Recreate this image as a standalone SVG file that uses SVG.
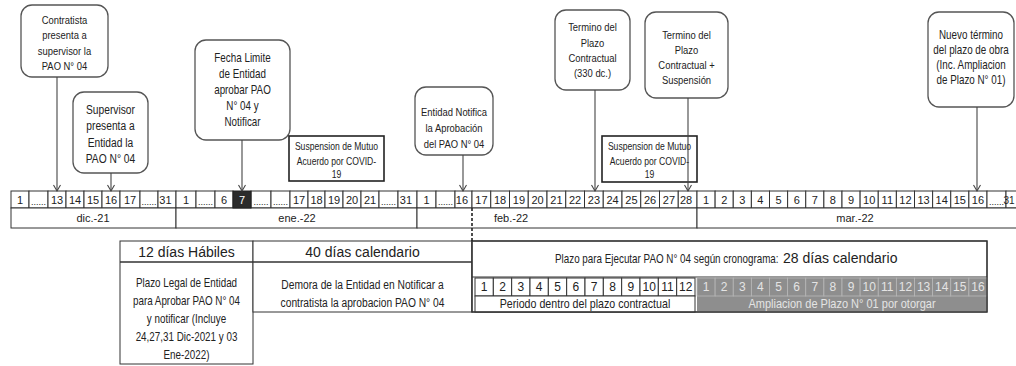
<svg xmlns="http://www.w3.org/2000/svg" width="1016" height="366" viewBox="0 0 1016 366">
<style>
.cb{fill:#fff;stroke:#555;stroke-width:1.3}
.sus{fill:#fff;stroke:#222;stroke-width:1.6}
.t{font-family:"Liberation Sans",Arial,sans-serif;fill:#222;text-anchor:middle}
.ts{font-family:"Liberation Sans",Arial,sans-serif;fill:#222;text-anchor:start}
.c{fill:#fff;stroke:#333;stroke-width:1}
.g{fill:#8e8e8e;stroke:#b8b8b8;stroke-width:0.8}
.gt{font-family:"Liberation Sans",Arial,sans-serif;fill:#e4e4e4;text-anchor:middle}
.conn{stroke:#444;stroke-width:1.1;fill:none}
</style>
<defs>
<marker id="ah" markerUnits="userSpaceOnUse" markerWidth="12" markerHeight="12" refX="0" refY="0" viewBox="-8 -6 10 12" orient="auto" overflow="visible">
<path d="M-6,-3.5 L0,0 L-6,3.5" fill="none" stroke="#444" stroke-width="1.1"/>
</marker>
</defs>
<rect width="1016" height="366" fill="#fff"/>

<g id="n-contratista">
<rect class="cb" x="21" y="5" width="87" height="72" rx="11"/>
<g transform="translate(64.5 0) scale(0.82 1)"><text class="t" font-size="11.5"><tspan x="0" y="24">Contratista</tspan><tspan x="0" y="39.5">presenta a</tspan><tspan x="0" y="55">supervisor la</tspan><tspan x="0" y="70.5">PAO N° 04</tspan></text></g>
</g>
<g id="n-supervisor">
<rect class="cb" x="73" y="92" width="75" height="81" rx="11"/>
<g transform="translate(110.5 0) scale(0.82 1)"><text class="t" font-size="12.5"><tspan x="0" y="114">Supervisor</tspan><tspan x="0" y="130.5">presenta a</tspan><tspan x="0" y="147">Entidad la</tspan><tspan x="0" y="163.5">PAO N° 04</tspan></text></g>
</g>
<g id="n-fecha">
<rect class="cb" x="195" y="40" width="95" height="100" rx="11"/>
<g transform="translate(242.5 0) scale(0.82 1)"><text class="t" font-size="12"><tspan x="0" y="62">Fecha Limite</tspan><tspan x="0" y="78">de Entidad</tspan><tspan x="0" y="94">aprobar PAO</tspan><tspan x="0" y="110">N° 04 y</tspan><tspan x="0" y="126">Notificar</tspan></text></g>
</g>
<g id="n-susp1">
<rect class="sus" x="289" y="136" width="95" height="45"/>
<g transform="translate(336.5 0) scale(0.82 1)"><text class="t" font-size="10.5"><tspan x="0" y="150.5">Suspension de Mutuo</tspan><tspan x="0" y="165">Acuerdo por COVID-</tspan><tspan x="0" y="178.5">19</tspan></text></g>
</g>
<g id="n-notifica">
<rect class="cb" x="415" y="87" width="78" height="68" rx="11"/>
<g transform="translate(454 0) scale(0.82 1)"><text class="t" font-size="11.5"><tspan x="0" y="116">Entidad Notifica</tspan><tspan x="0" y="132">la Aprobación</tspan><tspan x="0" y="148">del PAO N° 04</tspan></text></g>
</g>
<g id="n-termino">
<rect class="cb" x="555" y="10" width="75" height="80" rx="11"/>
<g transform="translate(592.5 0) scale(0.82 1)"><text class="t" font-size="11.5"><tspan x="0" y="31">Termino del</tspan><tspan x="0" y="47">Plazo</tspan><tspan x="0" y="62">Contractual</tspan><tspan x="0" y="77">(330 dc.)</tspan></text></g>
</g>
<g id="n-termino-susp">
<rect class="cb" x="645" y="12" width="83" height="86" rx="11"/>
<g transform="translate(686.5 0) scale(0.82 1)"><text class="t" font-size="11.5"><tspan x="0" y="39">Termino del</tspan><tspan x="0" y="54">Plazo</tspan><tspan x="0" y="69">Contractual +</tspan><tspan x="0" y="84">Suspensión</tspan></text></g>
</g>
<g id="n-susp2">
<rect class="sus" x="602" y="136" width="95" height="46"/>
<g transform="translate(649.5 0) scale(0.82 1)"><text class="t" font-size="10.5"><tspan x="0" y="150.5">Suspension de Mutuo</tspan><tspan x="0" y="165">Acuerdo por COVID-</tspan><tspan x="0" y="178.5">19</tspan></text></g>
</g>
<g id="n-nuevo">
<rect class="cb" x="928" y="12" width="86" height="95" rx="11"/>
<g transform="translate(971 0) scale(0.82 1)"><text class="t" font-size="12"><tspan x="0" y="39">Nuevo término</tspan><tspan x="0" y="54">del plazo de obra</tspan><tspan x="0" y="69">(Inc. Ampliacion</tspan><tspan x="0" y="84">de Plazo N° 01)</tspan></text></g>
</g>

<g id="n-timeline">
<g class="c">
<rect x="11" y="191" width="18" height="17"/><rect x="29" y="191" width="19" height="17"/><rect x="48" y="191" width="18" height="17"/><rect x="66" y="191" width="18" height="17"/><rect x="84" y="191" width="18" height="17"/><rect x="102" y="191" width="18" height="17"/><rect x="120" y="191" width="20" height="17"/><rect x="140" y="191" width="18" height="17"/><rect x="158" y="191" width="18" height="17"/>
<rect x="176" y="191" width="20" height="17"/><rect x="196" y="191" width="19" height="17"/><rect x="215" y="191" width="18" height="17"/><rect x="251" y="191" width="20" height="17"/><rect x="271" y="191" width="19" height="17"/><rect x="290" y="191" width="18" height="17"/><rect x="308" y="191" width="17" height="17"/><rect x="325" y="191" width="18" height="17"/><rect x="343" y="191" width="18" height="17"/><rect x="361" y="191" width="18" height="17"/><rect x="379" y="191" width="19" height="17"/><rect x="398" y="191" width="19" height="17"/>
<rect x="417" y="191" width="19" height="17"/><rect x="436" y="191" width="19" height="17"/><rect x="455" y="191" width="17" height="17"/>
<rect x="472" y="191" width="18.75" height="17"/><rect x="490.75" y="191" width="18.75" height="17"/><rect x="509.5" y="191" width="18.75" height="17"/><rect x="528.25" y="191" width="18.75" height="17"/><rect x="547" y="191" width="18.75" height="17"/><rect x="565.75" y="191" width="18.75" height="17"/><rect x="584.5" y="191" width="18.75" height="17"/><rect x="603.25" y="191" width="18.75" height="17"/><rect x="622" y="191" width="18.75" height="17"/><rect x="640.75" y="191" width="18.75" height="17"/><rect x="659.5" y="191" width="18.75" height="17"/><rect x="678.25" y="191" width="18.75" height="17"/>
<rect x="697" y="191" width="18.125" height="17"/><rect x="715.125" y="191" width="18.125" height="17"/><rect x="733.25" y="191" width="18.125" height="17"/><rect x="751.375" y="191" width="18.125" height="17"/><rect x="769.5" y="191" width="18.125" height="17"/><rect x="787.625" y="191" width="18.125" height="17"/><rect x="805.75" y="191" width="18.125" height="17"/><rect x="823.875" y="191" width="18.125" height="17"/><rect x="842" y="191" width="18.125" height="17"/><rect x="860.125" y="191" width="18.125" height="17"/><rect x="878.25" y="191" width="18.125" height="17"/><rect x="896.375" y="191" width="18.125" height="17"/><rect x="914.5" y="191" width="18.125" height="17"/><rect x="932.625" y="191" width="18.125" height="17"/><rect x="950.75" y="191" width="18.125" height="17"/><rect x="968.875" y="191" width="18.125" height="17"/><rect x="987" y="191" width="19" height="17"/><rect x="1006" y="191" width="18" height="17"/>
<rect x="11" y="208" width="165" height="20"/><rect x="176" y="208" width="241" height="20"/><rect x="417" y="208" width="280" height="20"/><rect x="697" y="208" width="327" height="20"/>
</g>
<rect x="233" y="191" width="18" height="17" fill="#2b2b2b" stroke="#222"/>
<text class="t" font-size="11">
<tspan x="20" y="203.5">1</tspan><tspan x="57" y="203.5">13</tspan><tspan x="75" y="203.5">14</tspan><tspan x="93" y="203.5">15</tspan><tspan x="111" y="203.5">16</tspan><tspan x="130" y="203.5">17</tspan><tspan x="167" y="203.5">31</tspan>
<tspan x="186" y="203.5">1</tspan><tspan x="224" y="203.5">6</tspan><tspan x="299" y="203.5">17</tspan><tspan x="316.5" y="203.5">18</tspan><tspan x="334" y="203.5">19</tspan><tspan x="352" y="203.5">20</tspan><tspan x="370" y="203.5">21</tspan><tspan x="407.5" y="203.5">31</tspan>
<tspan x="426.5" y="203.5">1</tspan><tspan x="463.5" y="203.5">16</tspan>
<tspan x="481.4" y="203.5">17</tspan><tspan x="500.1" y="203.5">18</tspan><tspan x="518.9" y="203.5">19</tspan><tspan x="537.6" y="203.5">20</tspan><tspan x="556.4" y="203.5">21</tspan><tspan x="575.1" y="203.5">22</tspan><tspan x="593.9" y="203.5">23</tspan><tspan x="612.6" y="203.5">24</tspan><tspan x="631.4" y="203.5">25</tspan><tspan x="650.1" y="203.5">26</tspan><tspan x="668.9" y="203.5">27</tspan><tspan x="687.6" y="203.5">28</tspan>
<tspan x="706.1" y="203.5">1</tspan><tspan x="724.2" y="203.5">2</tspan><tspan x="742.3" y="203.5">3</tspan><tspan x="760.4" y="203.5">4</tspan><tspan x="778.6" y="203.5">5</tspan><tspan x="796.7" y="203.5">6</tspan><tspan x="814.8" y="203.5">7</tspan><tspan x="832.9" y="203.5">8</tspan><tspan x="851.1" y="203.5">9</tspan><tspan x="869.2" y="203.5">10</tspan><tspan x="887.3" y="203.5">11</tspan><tspan x="905.4" y="203.5">12</tspan><tspan x="923.6" y="203.5">13</tspan><tspan x="941.7" y="203.5">14</tspan><tspan x="959.8" y="203.5">15</tspan><tspan x="977.9" y="203.5">16</tspan></text>
<text class="t" font-size="10" x="1009" y="203.5">31</text>
<text class="t" font-size="11" style="fill:#fff" x="242" y="203.5">7</text>
<text class="t" font-size="9">
<tspan x="38.5" y="205">......</tspan><tspan x="149" y="205">......</tspan><tspan x="205.5" y="205">......</tspan><tspan x="261" y="205">......</tspan><tspan x="280.5" y="205">......</tspan><tspan x="388.5" y="205">......</tspan><tspan x="445.5" y="205">......</tspan><tspan x="996.5" y="205">......</tspan>
</text>
<text class="t" font-size="11"><tspan x="93" y="222">dic.-21</tspan><tspan x="297" y="222">ene.-22</tspan><tspan x="511" y="222">feb.-22</tspan><tspan x="855" y="222">mar.-22</tspan></text>
</g>

<g id="n-plazo-legal">
<rect class="c" x="120" y="241" width="133" height="123" stroke-width="1.3"/>
<line x1="120" y1="262" x2="253" y2="262" stroke="#333" stroke-width="1.3"/>
<text class="t" font-size="14" x="186.5" y="256.5">12 días Hábiles</text>
<g transform="translate(186.5 0) scale(0.82 1)"><text class="t" font-size="12"><tspan x="0" y="287">Plazo Legal de Entidad</tspan><tspan x="0" y="305">para Aprobar PAO N° 04</tspan><tspan x="0" y="323">y notificar (Incluye</tspan><tspan x="0" y="341">24,27,31 Dic-2021 y 03</tspan><tspan x="0" y="359">Ene-2022)</tspan></text></g>
</g>
<g id="n-demora">
<rect class="c" x="253" y="241" width="219" height="71" stroke-width="1.3"/>
<line x1="253" y1="262" x2="472" y2="262" stroke="#333" stroke-width="1.3"/>
<text class="t" font-size="14" x="362.5" y="256.5">40 días calendario</text>
<g transform="translate(362.5 0) scale(0.82 1)"><text class="t" font-size="12.5"><tspan x="0" y="289">Demora de la Entidad en Notificar a</tspan><tspan x="0" y="307">contratista la aprobacion PAO N° 04</tspan></text></g>
</g>
<g id="n-plazo-ejecutar">
<rect class="c" x="472" y="241" width="515" height="71" stroke-width="1.3"/>
<line x1="472" y1="277" x2="987" y2="277" stroke="#333" stroke-width="1"/>
<g transform="translate(555 0) scale(0.82 1)"><text class="ts" font-size="12" x="0" y="263">Plazo para Ejecutar PAO N° 04 según cronograma:</text></g>
<text class="ts" font-size="14" x="783" y="263">28 días calendario</text>
<g class="c">
<rect x="475" y="278" width="18.33" height="18"/><rect x="493.33" y="278" width="18.33" height="18"/><rect x="511.67" y="278" width="18.33" height="18"/><rect x="530" y="278" width="18.33" height="18"/><rect x="548.33" y="278" width="18.33" height="18"/><rect x="566.67" y="278" width="18.33" height="18"/><rect x="585" y="278" width="18.33" height="18"/><rect x="603.33" y="278" width="18.33" height="18"/><rect x="621.67" y="278" width="18.33" height="18"/><rect x="640" y="278" width="18.33" height="18"/><rect x="658.33" y="278" width="18.33" height="18"/><rect x="676.67" y="278" width="18.33" height="18"/>
<rect x="475" y="296" width="220" height="16"/>
</g>
<text class="t" font-size="12"><tspan x="484.2" y="291">1</tspan><tspan x="502.5" y="291">2</tspan><tspan x="520.8" y="291">3</tspan><tspan x="539.2" y="291">4</tspan><tspan x="557.5" y="291">5</tspan><tspan x="575.8" y="291">6</tspan><tspan x="594.2" y="291">7</tspan><tspan x="612.5" y="291">8</tspan><tspan x="630.8" y="291">9</tspan><tspan x="649.2" y="291">10</tspan><tspan x="667.5" y="291">11</tspan><tspan x="685.8" y="291">12</tspan></text>
<g transform="translate(585 0) scale(0.82 1)"><text class="t" font-size="13" x="0" y="308.5">Periodo dentro del plazo contractual</text></g>
<rect x="697" y="277" width="290" height="35" fill="#8e8e8e"/>
<g class="g">
<rect x="697" y="278" width="18.125" height="18"/><rect x="715.125" y="278" width="18.125" height="18"/><rect x="733.25" y="278" width="18.125" height="18"/><rect x="751.375" y="278" width="18.125" height="18"/><rect x="769.5" y="278" width="18.125" height="18"/><rect x="787.625" y="278" width="18.125" height="18"/><rect x="805.75" y="278" width="18.125" height="18"/><rect x="823.875" y="278" width="18.125" height="18"/><rect x="842" y="278" width="18.125" height="18"/><rect x="860.125" y="278" width="18.125" height="18"/><rect x="878.25" y="278" width="18.125" height="18"/><rect x="896.375" y="278" width="18.125" height="18"/><rect x="914.5" y="278" width="18.125" height="18"/><rect x="932.625" y="278" width="18.125" height="18"/><rect x="950.75" y="278" width="18.125" height="18"/><rect x="968.875" y="278" width="18.125" height="18"/>
</g>
<text class="gt" font-size="12"><tspan x="706.1" y="291">1</tspan><tspan x="724.2" y="291">2</tspan><tspan x="742.3" y="291">3</tspan><tspan x="760.4" y="291">4</tspan><tspan x="778.6" y="291">5</tspan><tspan x="796.7" y="291">6</tspan><tspan x="814.8" y="291">7</tspan><tspan x="832.9" y="291">8</tspan><tspan x="851.1" y="291">9</tspan><tspan x="869.2" y="291">10</tspan><tspan x="887.3" y="291">11</tspan><tspan x="905.4" y="291">12</tspan><tspan x="923.6" y="291">13</tspan><tspan x="941.7" y="291">14</tspan><tspan x="959.8" y="291">15</tspan><tspan x="977.9" y="291">16</tspan></text>
<g transform="translate(842 0) scale(0.88 1)"><text class="gt" font-size="12.5" x="0" y="308.5">Ampliacion de Plazo N° 01 por otorgar</text></g>
<rect x="472" y="241" width="515" height="71" fill="none" stroke="#333" stroke-width="1.3"/>
</g>

<g id="connectors">
<line class="conn" x1="57" y1="77" x2="57" y2="191" marker-end="url(#ah)"/>
<line class="conn" x1="111" y1="173" x2="111" y2="191" marker-end="url(#ah)"/>
<line class="conn" x1="242" y1="140" x2="242" y2="191" marker-end="url(#ah)"/>
<line class="conn" x1="463" y1="155" x2="463" y2="191" marker-end="url(#ah)"/>
<line class="conn" x1="595" y1="90" x2="595" y2="191" marker-end="url(#ah)"/>
<line class="conn" x1="688" y1="98" x2="688" y2="191" marker-end="url(#ah)"/>
<line class="conn" x1="977" y1="107" x2="977" y2="191" marker-end="url(#ah)"/>
<line x1="472" y1="208" x2="472" y2="241" stroke="#222" stroke-width="1.6" stroke-dasharray="3,2"/>
</g>
</svg>
